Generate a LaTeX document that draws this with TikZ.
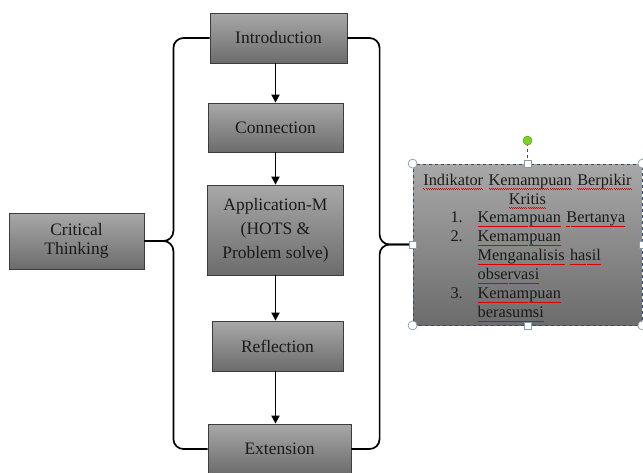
\documentclass[tikz,border=0pt]{standalone}
\usepackage{fontspec}
\setmainfont{Liberation Serif}
\usetikzlibrary{arrows.meta}
\newsavebox\sqbox
\newcommand\rwave[1]{\leavevmode\sbox\sqbox{#1}\rlap{\color{red!85!black}\hbox to\wd\sqbox{\xleaders\hbox to 2pt{\vrule width1pt height-3.0pt depth3.6pt\vrule width1pt height-3.6pt depth4.2pt}\hfill}}\usebox\sqbox}
\definecolor{boxtop}{HTML}{A8A8A8}
\definecolor{boxbot}{HTML}{6C6C6C}
\definecolor{boxedge}{HTML}{3C3C3C}
\definecolor{txt}{HTML}{1A1A1A}
\definecolor{selblue}{HTML}{3A4B5E}
\definecolor{handle}{HTML}{8A9AAA}
\definecolor{rotgreen}{HTML}{7ED321}
\tikzset{
  stepbox/.style={draw=boxedge, line width=0.8pt, top color=boxtop, bottom color=boxbot,
    text=txt, align=center, inner sep=0pt,
    font=\fontsize{17.5}{19}\selectfont},
  flow/.style={line width=1.8pt, -{Triangle[length=8pt,width=8pt]}},
  brace/.style={line width=1.7pt, rounded corners=10pt},
}
\begin{document}
\begin{tikzpicture}[x=1pt,y=-1pt]
\useasboundingbox (0,0) rectangle (643,472);
\begin{scope}
\clip (0,0) rectangle (643,472);
\node[stepbox, minimum width=137, minimum height=50] (intro) at (278.5,38) {Introduction};
\node[stepbox, minimum width=135, minimum height=49] (conn) at (275.5,127.5) {Connection};
\node[stepbox, minimum width=136, minimum height=90, font=\fontsize{17.5}{24}\selectfont] (app) at (275.5,230) {Application-M\\(HOTS \&\\Problem solve)};
\node[stepbox, minimum width=131, minimum height=50] (refl) at (277.5,346) {Reflection};
\node[stepbox, minimum width=143, minimum height=50] (ext) at (279.5,449) {Extension};
\node[stepbox, minimum width=135, minimum height=56] (ct) at (76.5,241) {Critical\\Thinking};
\node[stepbox, draw=selblue, dashed, minimum width=229, minimum height=161] (ind) at (527.5,244.5) {};
\node[text=txt, inner sep=0pt, text width=222, align=left, font=\fontsize{16.3}{19}\selectfont]
  (indtxt) at ([yshift=-4pt]ind.center)
{{\centering \rwave{Indikator} \rwave{Kemampuan} \rwave{Berpikir}\\ \rwave{Kritis}\par}%
\hspace*{34pt}\begin{tabular}{@{}r@{\hspace{15pt}}l@{}}
1. & \rwave{Kemampuan} \rwave{Bertanya}\\
2. & \rwave{Kemampuan}\\
   & \rwave{Menganalisis} \rwave{hasil}\\
   & \rwave{observasi}\\
3. & \rwave{Kemampuan}\\
   & \rwave{berasumsi}
\end{tabular}};

\draw[flow] (app.center |- intro.south) -- (app.center |- conn.north);
\draw[flow] (app.center |- conn.south) -- (app.north);
\draw[flow] (app.south) -- (app.center |- refl.north);
\draw[flow] (app.center |- refl.south) -- (app.center |- ext.north);

\draw[brace] (intro.west) -| ([xshift=29pt]ct.east) -- (ct.east);
\draw[brace] (ext.west) -| ([xshift=29pt]ct.east) -- (ct.east);
\draw[brace] (intro.east) -| ([xshift=-33pt]ind.west) -- (ind.west);
\draw[brace] (ext.east) -| ([xshift=-33pt]ind.west) -- (ind.west);

% selection handles
\coordinate (rot) at ([yshift=23pt]ind.north);
\draw[selblue, dashed, line width=0.6pt] (ind.north) -- (rot);
\filldraw[fill=rotgreen, draw=rotgreen!70!black, line width=0.5pt] (rot) circle (4.5pt);
\foreach \a in {north west, north east, south west, south east}
  \filldraw[fill=white, draw=handle, line width=0.7pt] (ind.\a) circle (4.5pt);
\foreach \a in {north, south, west, east}
  \filldraw[fill=white, draw=handle, line width=0.7pt] ([xshift=-3.5pt,yshift=-3.5pt]ind.\a) rectangle ++(7pt,7pt);
\end{scope}
\end{tikzpicture}
\end{document}
